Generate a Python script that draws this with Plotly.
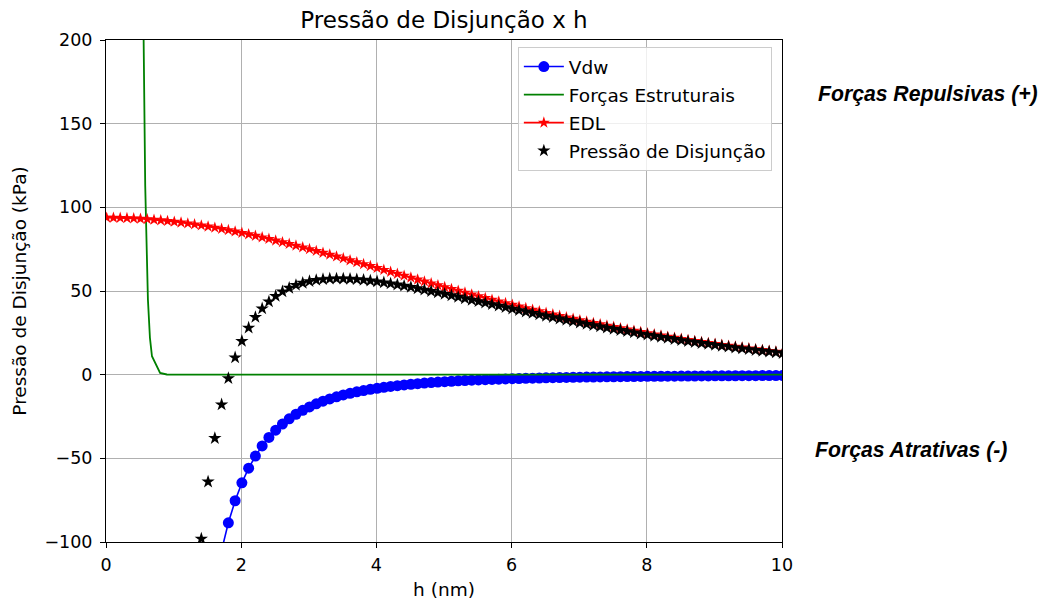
import plotly.graph_objects as go

# --- data ---
h = [0.01, 0.11, 0.21, 0.31, 0.41, 0.51, 0.61, 0.71, 0.81, 0.91,
     1.01, 1.11, 1.21, 1.31, 1.41, 1.51, 1.61, 1.71, 1.81, 1.91,
     2.01, 2.11, 2.21, 2.31, 2.41, 2.51, 2.61, 2.71, 2.81, 2.91,
     3.01, 3.11, 3.21, 3.31, 3.41, 3.51, 3.61, 3.71, 3.81, 3.91,
     4.01, 4.11, 4.21, 4.31, 4.41, 4.51, 4.61, 4.71, 4.81, 4.91,
     5.01, 5.11, 5.21, 5.31, 5.41, 5.51, 5.61, 5.71, 5.81, 5.91,
     6.01, 6.11, 6.21, 6.31, 6.41, 6.51, 6.61, 6.71, 6.81, 6.91,
     7.01, 7.11, 7.21, 7.31, 7.41, 7.51, 7.61, 7.71, 7.81, 7.91,
     8.01, 8.11, 8.21, 8.31, 8.41, 8.51, 8.61, 8.71, 8.81, 8.91,
     9.01, 9.11, 9.21, 9.31, 9.41, 9.51, 9.61, 9.71, 9.81, 9.91,
     10.01]

vdw = [-525000000, -394440, -56690, -17623, -7617.4, -3957.8, -2313.0, -1466.8, -987.9, -696.7,
       -509.6, -383.9, -296.4, -233.5, -187.3, -152.5, -125.8, -105.0, -88.54, -75.35,
       -64.65, -55.89, -48.64, -42.59, -37.51, -33.20, -29.53, -26.38, -23.66, -21.31,
       -19.25, -17.45, -15.87, -14.48, -13.24, -12.14, -11.16, -10.28, -9.49, -8.78,
       -8.14, -7.56, -7.04, -6.56, -6.12, -5.72, -5.36, -5.02, -4.72, -4.44,
       -4.17, -3.93, -3.71, -3.51, -3.32, -3.14, -2.97, -2.82, -2.68, -2.54,
       -2.42, -2.30, -2.19, -2.09, -1.99, -1.90, -1.82, -1.74, -1.66, -1.59,
       -1.52, -1.46, -1.40, -1.34, -1.29, -1.24, -1.19, -1.15, -1.10, -1.06,
       -1.02, -0.98, -0.95, -0.91, -0.88, -0.85, -0.82, -0.79, -0.77, -0.74,
       -0.72, -0.69, -0.67, -0.65, -0.63, -0.61, -0.59, -0.57, -0.56, -0.54,
       -0.52]

edl = [93.80, 93.77, 93.69, 93.57, 93.40, 93.18, 92.91, 92.60, 92.24, 91.84,
       91.39, 90.90, 90.37, 89.80, 89.18, 88.53, 87.84, 87.12, 86.35, 85.56,
       84.73, 83.87, 82.99, 82.07, 81.13, 80.16, 79.17, 78.16, 77.13, 76.08,
       75.01, 73.93, 72.84, 71.73, 70.61, 69.48, 68.35, 67.20, 66.06, 64.91,
       63.75, 62.60, 61.44, 60.29, 59.14, 57.99, 56.84, 55.70, 54.57, 53.45,
       52.33, 51.22, 50.12, 49.03, 47.95, 46.89, 45.83, 44.79, 43.76, 42.74,
       41.74, 40.75, 39.78, 38.82, 37.88, 36.95, 36.04, 35.14, 34.26, 33.39,
       32.54, 31.71, 30.89, 30.09, 29.30, 28.54, 27.75, 26.98, 26.23, 25.49,
       24.77, 24.07, 23.38, 22.70, 22.04, 21.39, 20.76, 20.15, 19.54, 18.95,
       18.38, 17.82, 17.27, 16.73, 16.21, 15.70, 15.20, 14.72, 14.24, 13.78,
       13.33]

total = [-525000000, -394346, -56596, -17529, -7524.0, -3864.6, -2220.1, -1374.2, -895.7, -604.9,
         -418.2, -293.0, -206.0, -143.7, -98.1, -64.0, -38.0, -17.9, -2.19, 10.21,
         20.08, 27.98, 34.35, 39.48, 43.62, 46.96, 49.64, 51.78, 53.47, 54.77,
         55.76, 56.48, 56.97, 57.25, 57.37, 57.34, 57.19, 56.92, 56.57, 56.13,
         55.61, 55.04, 54.40, 53.73, 53.02, 52.27, 51.48, 50.68, 49.85, 49.01,
         48.16, 47.29, 46.41, 45.52, 44.63, 43.75, 42.86, 41.97, 41.08, 40.20,
         39.32, 38.45, 37.59, 36.73, 35.89, 35.05, 34.22, 33.40, 32.60, 31.80,
         31.02, 30.25, 29.49, 28.75, 28.01, 27.30, 26.56, 25.83, 25.13, 24.43,
         23.75, 23.09, 22.43, 21.79, 21.16, 20.54, 19.94, 19.36, 18.77, 18.21,
         17.66, 17.13, 16.60, 16.08, 15.58, 15.09, 14.61, 14.15, 13.68, 13.24,
         12.81]

h_struct = [0.50, 0.55, 0.58, 0.60, 0.62, 0.65, 0.68, 0.80, 0.90, 1.00, 10.01]
struct = [720, 225, 113, 72, 45, 22, 11, 1.0, 0.1, 0.0, 0.0]

x_ticks = [0, 2, 4, 6, 8, 10]
x_tick_labels = ["0", "2", "4", "6", "8", "10"]
y_ticks = [-100, -50, 0, 50, 100, 150, 200]
y_tick_labels = ["\u2212100", "\u221250", "0", "50", "100", "150", "200"]

FONT = "DejaVu Sans"
FS = 18.5     # axis titles / legend
TFS = 17.5    # tick labels

fig = go.Figure()
fig.add_trace(go.Scatter(
    x=h, y=vdw, name="Vdw", mode="lines+markers", legendgroup="a",
    line=dict(color="#0000ff", width=1.6),
    marker=dict(symbol="circle", size=11, color="#0000ff")))
fig.add_trace(go.Scatter(
    x=h_struct, y=struct, name="Forças Estruturais", mode="lines", legendgroup="b",
    line=dict(color="#008000", width=1.8)))
fig.add_trace(go.Scatter(
    x=h, y=edl, name="EDL", mode="lines+markers", legendgroup="c",
    line=dict(color="#ff0000", width=1.6),
    marker=dict(symbol="star", size=9, color="#ff0000")))
fig.add_trace(go.Scatter(
    x=h, y=total, name="Pressão de Disjunção", mode="markers", legendgroup="d",
    marker=dict(symbol="star", size=10, color="#000000")))

axis_common = dict(
    showline=True, linecolor="black", linewidth=1, mirror=True,
    ticks="outside", ticklen=5, tickwidth=1, tickcolor="black",
    showgrid=True, gridcolor="#b0b0b0", gridwidth=1,
    zeroline=False, tickfont=dict(family=FONT, size=TFS, color="black"),
    automargin=False,
)

W, H = 1038, 592
fig.update_layout(
    width=W, height=H,
    margin=dict(l=98, r=264, t=32, b=58),
    paper_bgcolor="white", plot_bgcolor="white",
    font=dict(family=FONT, size=FS, color="black"),
    title=dict(text="Pressão de Disjunção x h", x=0.5, xref="paper", xanchor="center",
               y=1 - 12 / H, yref="container", yanchor="middle",
               font=dict(family=FONT, size=23, color="black")),
    xaxis=dict(range=[0, 10], tickvals=x_ticks, ticktext=x_tick_labels, ticklabelstandoff=2,
               title=dict(text="h (nm)", standoff=10, font=dict(family=FONT, size=FS)),
               **axis_common),
    yaxis=dict(range=[-100, 200], tickvals=y_ticks, ticktext=y_tick_labels, ticklabelstandoff=4,
               title=dict(text="Pressão de Disjunção (kPa)", standoff=12, font=dict(family=FONT, size=FS)),
               **axis_common),
    legend=dict(x=0.985, y=0.986, xanchor="right", yanchor="top",
                bgcolor="rgba(255,255,255,0.8)", bordercolor="#cccccc", borderwidth=1,
                font=dict(family=FONT, size=FS, color="black"),
                tracegroupgap=1, itemwidth=40),
    showlegend=True,
)

fig.add_annotation(text="Forças Repulsivas (+)", xref="paper", yref="paper",
                   x=(816 - 106) / 676, y=(542 - 94) / 502, xanchor="left", yanchor="middle",
                   showarrow=False,
                   font=dict(family="Liberation Sans", size=21.2, color="black",
                             weight="bold", style="italic"))
fig.add_annotation(text="Forças Atrativas (-)", xref="paper", yref="paper",
                   x=(813 - 106) / 676, y=(542 - 450) / 502, xanchor="left", yanchor="middle",
                   showarrow=False,
                   font=dict(family="Liberation Sans", size=21.2, color="black",
                             weight="bold", style="italic"))

fig.write_html("out.html")
